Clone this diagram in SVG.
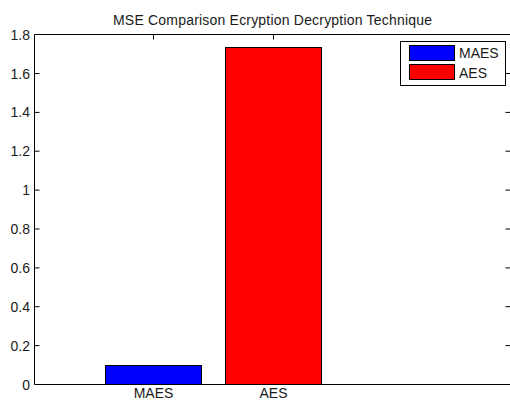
<svg xmlns="http://www.w3.org/2000/svg" width="510" height="401" viewBox="0 0 510 401">
<style>
text{font-family:"Liberation Sans",Arial,sans-serif;font-size:14px;fill:#1a1a1a}
.ax{stroke:#000;stroke-width:1;fill:none}
.tl{text-anchor:end}
.xl{text-anchor:middle}
.bar{stroke:#000;stroke-width:1}
</style>
<rect width="510" height="401" fill="#fff"/>
<g id="title"><text x="272.5" y="25" text-anchor="middle" textLength="319">MSE Comparison Ecryption Decryption Technique</text></g>
<g id="bars">
<g id="bar-maes"><rect class="bar" x="105.5" y="365.5" width="96" height="19" fill="#0000ff"/></g>
<g id="bar-aes"><rect class="bar" x="225.5" y="47.5" width="96" height="337" fill="#ff0000"/></g>
</g>
<g id="axes">
<path class="ax" d="M34.5 34.5H510.5V384.5H34.5Z"/>
<path class="ax" d="M34.5 345.6h5M34.5 306.7h5M34.5 267.9h5M34.5 229h5M34.5 190.1h5M34.5 151.2h5M34.5 112.4h5M34.5 73.5h5M505.5 345.6h5M505.5 306.7h5M505.5 267.9h5M505.5 229h5M505.5 190.1h5M505.5 151.2h5M505.5 112.4h5M505.5 73.5h5M153.5 34.5v5M273.5 34.5v5"/>
<text class="tl" x="30" y="389.5">0</text>
<text class="tl" x="30" y="350.6">0.2</text>
<text class="tl" x="30" y="311.7">0.4</text>
<text class="tl" x="30" y="272.9">0.6</text>
<text class="tl" x="30" y="234">0.8</text>
<text class="tl" x="30" y="195.1">1</text>
<text class="tl" x="30" y="156.2">1.2</text>
<text class="tl" x="30" y="117.4">1.4</text>
<text class="tl" x="30" y="78.5">1.6</text>
<text class="tl" x="30" y="39.6">1.8</text>
<text class="xl" x="153.5" y="398">MAES</text>
<text class="xl" x="273.5" y="398">AES</text>
</g>
<g id="legend">
<rect x="400.5" y="41.5" width="105" height="44" fill="#fff" stroke="#000"/>
<rect class="bar" x="409.5" y="45.5" width="45" height="15" fill="#0000ff"/>
<rect class="bar" x="409.5" y="64.5" width="45" height="15" fill="#ff0000"/>
<text x="459" y="58.3">MAES</text>
<text x="459" y="78">AES</text>
</g>
</svg>
